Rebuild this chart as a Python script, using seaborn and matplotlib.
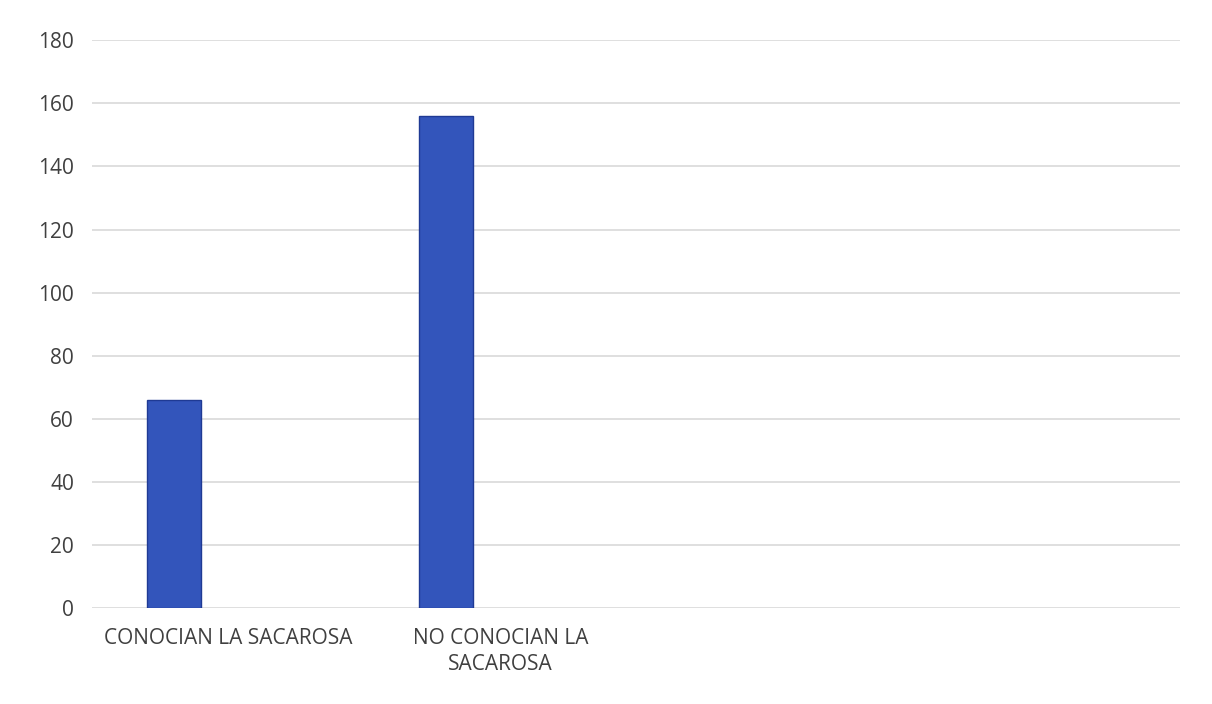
import pandas as pd
import matplotlib
matplotlib.use("Agg")
import matplotlib.pyplot as plt
import seaborn as sns

# datos
categorias = ["CONOCIAN LA SACAROSA", "NO CONOCIAN LA\nSACAROSA"]
series = ["Serie1", "Serie2", "Serie3"]
valores = [66, 156]
yticks = [0, 20, 40, 60, 80, 100, 120, 140, 160, 180]

filas = []
for cat, val in zip(categorias, valores):
    filas.append({"categoria": cat, "serie": series[0], "valor": val})
    for s in series[1:]:
        filas.append({"categoria": cat, "serie": s, "valor": float("nan")})
df = pd.DataFrame(filas)

sns.set_theme(style="white")
plt.rcParams["font.family"] = ["Open Sans", "DejaVu Sans"]

fig = plt.figure(figsize=(12.12, 7.04), dpi=100)
ax = fig.add_axes([0.076, 0.136, 0.898, 0.807])

sns.barplot(data=df, x="categoria", y="valor", hue="serie", order=categorias,
            hue_order=series, palette=["#3355BB", "#3355BB", "#3355BB"],
            saturation=1, width=0.6, edgecolor="#1f3a94", linewidth=1,
            legend=False, ax=ax)

ax.set_xlim(-0.5, 3.5)
ax.set_ylim(0, 180)
ax.set_yticks(yticks)
ax.yaxis.grid(True, color="#d9d9d9", linewidth=1.2)
ax.set_axisbelow(True)
for s in ax.spines.values():
    s.set_visible(False)
ax.set_xlabel("")
ax.set_ylabel("")
ax.tick_params(axis="y", length=0, pad=13, labelsize=15, labelcolor="#404040")
ax.tick_params(axis="x", length=0, pad=14, labelsize=15, labelcolor="#404040")
for t in ax.get_xticklabels():
    t.set_linespacing(1.3)

fig.savefig("out.png", dpi=100, facecolor="white")
